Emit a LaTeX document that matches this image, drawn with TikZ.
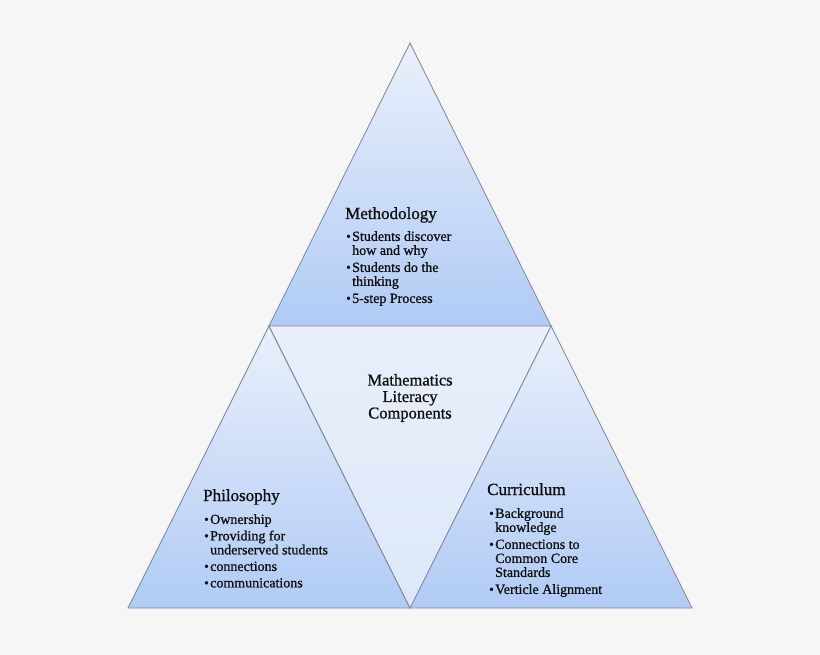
\documentclass[tikz,border=0pt]{standalone}
\usepackage{fontspec}
\setmainfont{Liberation Serif}[BoldFont={Liberation Serif},BoldFeatures={FakeBold=0.9}]
\definecolor{bgc}{RGB}{246,246,246}
\definecolor{triTop}{RGB}{234,240,251}
\definecolor{triBot}{RGB}{176,203,245}
\definecolor{midTop}{RGB}{233,239,251}
\definecolor{midBot}{RGB}{222,232,249}
\definecolor{edge}{RGB}{135,145,158}
\definecolor{txt}{RGB}{15,15,15}
\tikzset{
  tri/.style={draw=edge, line width=0.9pt, line join=miter},
  shadowline/.style={draw=black!45, opacity=0.5, line width=1.6pt},
  titletext/.style={font=\bfseries\fontsize{17}{18}\selectfont, text=txt, inner sep=0pt, anchor=base west},
  listtext/.style={font=\bfseries\fontsize{14}{14}\selectfont, text=txt, inner sep=0pt, anchor=north west, align=left},
  centertext/.style={font=\bfseries\fontsize{16.5}{16.5}\selectfont, text=txt, inner sep=0pt, align=center}
}
\newcommand{\bl}{\makebox[6pt][l]{\raisebox{0.3pt}{\fontsize{13}{13}\selectfont\textbullet}}}
\begin{document}
\begin{tikzpicture}[x=1pt,y=-1pt]
\useasboundingbox (0,0) rectangle (820,655);
\fill[bgc] (0,0) rectangle (820,655);
% vertices
\coordinate (A) at (410,43);
\coordinate (BL) at (269,326);
\coordinate (BR) at (551,326);
\coordinate (L) at (128,608);
\coordinate (M) at (410,608);
\coordinate (R) at (692,608);
% shadow under the base
\draw[shadowline] ([yshift=1.5pt]L) -- ([yshift=1.5pt]R);
% top triangle
\shade[top color=triTop, bottom color=triBot] (A) -- (BR) -- (BL) -- cycle;
\draw[tri] (A) -- (BR) -- (BL) -- cycle;
% left triangle
\shade[top color=triTop, bottom color=triBot] (BL) -- (M) -- (L) -- cycle;
\draw[tri] (BL) -- (M) -- (L) -- cycle;
% right triangle
\shade[top color=triTop, bottom color=triBot] (BR) -- (R) -- (M) -- cycle;
\draw[tri] (BR) -- (R) -- (M) -- cycle;
% middle inverted triangle
\shade[top color=midTop, bottom color=midBot] (BL) -- (BR) -- (M) -- cycle;
\draw[tri] (BL) -- (BR) -- (M) -- cycle;

% Methodology
\node[titletext] (mt) at (345,219) {Methodology};
\node[listtext] (ml) at (346,231) {\bl Students discover\\\hspace*{6pt}how and why\\[3pt]
\bl Students do the\\\hspace*{6pt}thinking\\[3pt]
\bl 5-step Process};
% center
\node[centertext] (ct) at (410,398) {Mathematics\\Literacy\\Components};
% Philosophy
\node[titletext] (pt) at (203,501) {Philosophy};
\node[listtext] (pl) at (204,514) {\fontsize{14}{13.5}\selectfont\bl Ownership\\[2.5pt]
\bl Providing for\\\hspace*{6pt}underserved students\\[2.5pt]
\bl connections\\[2.5pt]
\bl communications};
% Curriculum
\node[titletext] (cu) at (487,495) {Curriculum};
\node[listtext] (cl) at (489,508) {\bl Background\\\hspace*{6pt}knowledge\\[3pt]
\bl Connections to\\\hspace*{6pt}Common Core\\\hspace*{6pt}Standards\\[3pt]
\bl Verticle Alignment};
\end{tikzpicture}
\end{document}
